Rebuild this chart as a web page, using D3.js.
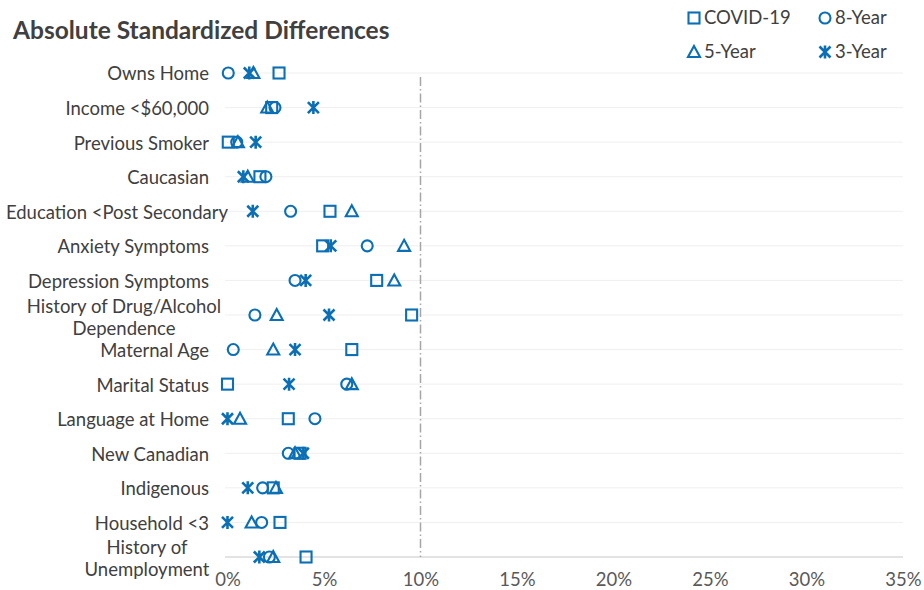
<!DOCTYPE html>
<html>
<head>
<meta charset="utf-8">
<script src="https://cdn.jsdelivr.net/npm/d3@7"></script>
<style>
  html, body { margin: 0; padding: 0; background: #fff; }
  svg { display: block; font-family: Lato, "Open Sans", sans-serif; }
</style>
</head>
<body>
<svg id="chart" width="924" height="590"></svg>
<script>
const categories = [
  "Owns Home", "Income <$60,000", "Previous Smoker", "Caucasian",
  "Education <Post Secondary", "Anxiety Symptoms", "Depression Symptoms",
  "History of Drug/Alcohol Dependence", "Maternal Age", "Marital Status",
  "Language at Home", "New Canadian", "Indigenous", "Household <3",
  "History of Unemployment"
];
const categoryLines = [
  ["Owns Home"], ["Income <$60,000"], ["Previous Smoker"], ["Caucasian"],
  ["Education <Post Secondary"], ["Anxiety Symptoms"], ["Depression Symptoms"],
  ["History of Drug/Alcohol", "Dependence"], ["Maternal Age"], ["Marital Status"],
  ["Language at Home"], ["New Canadian"], ["Indigenous"], ["Household <3"],
  ["History of", "Unemployment"]
];
// values in percent
const covid19 = [2.67, 2.29, 0.04, 1.68, 5.31, 4.93, 7.73, 9.54, 6.44, 0.0, 3.15, 3.76, 2.37, 2.72, 4.07];
const year8   = [0.04, 2.46, 0.48, 1.99, 3.27, 7.24, 3.50, 1.42, 0.30, 6.18, 4.53, 3.15, 1.82, 1.77, 2.17];
const year5   = [1.34, 2.06, 0.54, 1.05, 6.44, 9.15, 8.64, 2.55, 2.37, 6.44, 0.65, 3.50, 2.51, 1.25, 2.37];
const year3   = [1.13, 4.45, 1.46, 0.82, 1.31, 5.35, 4.05, 5.26, 3.50, 3.19, 0.0, 3.93, 1.05, 0.0, 1.65];
const xTicks = [0, 5, 10, 15, 20, 25, 30, 35];
const refLine = 10;

const seriesNames = ["COVID-19", "8-Year", "5-Year", "3-Year"];
const seriesValues = [covid19, year8, year5, year3];
const seriesShapes = ["square", "circle", "triangle", "asterisk"];

const blue = "#0b6fb6";
const textColor = "#404040";
const fs = 18.5;

const svg = d3.select("#chart");

const x = d3.scaleLinear().domain([0, 35]).range([227.5, 903]);
const y = d3.scalePoint().domain(categories).range([73, 557]);

// gridlines
svg.append("g").selectAll("line")
  .data(categories.slice(0, -1))
  .join("line")
  .attr("x1", 225).attr("x2", 903)
  .attr("y1", d => y(d)).attr("y2", d => y(d))
  .attr("stroke", "#efefef").attr("stroke-width", 1);

// bottom axis line
svg.append("line")
  .attr("x1", 225).attr("x2", 903)
  .attr("y1", y(categories[categories.length - 1]))
  .attr("y2", y(categories[categories.length - 1]))
  .attr("stroke", "#c8c8c8").attr("stroke-width", 1.2);

// reference line at 10%
svg.append("line")
  .attr("x1", x(refLine)).attr("x2", x(refLine))
  .attr("y1", 77).attr("y2", 557)
  .attr("stroke", "#a6a6a6").attr("stroke-width", 1.5)
  .attr("stroke-dasharray", "9,3,1.5,3");

// x axis
const xAxis = d3.axisBottom(x).tickValues(xTicks).tickFormat(d => d + "%").tickSize(0).tickPadding(0);
const gx = svg.append("g").attr("transform", "translate(0,570)").call(xAxis);
gx.select(".domain").remove();
gx.selectAll("text")
  .attr("dy", "0.85em")
  .attr("font-family", "Lato, sans-serif")
  .attr("font-size", fs)
  .attr("fill", "#595959");

// category labels
const labelG = svg.append("g");
categories.forEach((c, i) => {
  const lines = categoryLines[i];
  const cy = y(c) + 1;
  if (lines.length === 1) {
    labelG.append("text")
      .attr("x", i === 4 ? 228 : 209).attr("y", cy)
      .attr("dy", "0.35em")
      .attr("text-anchor", "end")
      .attr("font-size", fs)
      .attr("fill", textColor)
      .text(lines[0]);
  } else {
    const cx = i === 7 ? 124 : 147;
    const offs = i === 7 ? [-9, 13] : [-10, 12];
    lines.forEach((ln, k) => {
      labelG.append("text")
        .attr("x", cx).attr("y", cy + offs[k])
        .attr("dy", "0.35em")
        .attr("text-anchor", "middle")
        .attr("font-size", fs)
        .attr("fill", textColor)
        .text(ln);
    });
  }
});

// marker drawing
function drawMarker(g, shape, cx, cy) {
  const sw = 2.1;
  if (shape === "square") {
    g.append("rect").attr("x", cx - 5.5).attr("y", cy - 5.5).attr("width", 11).attr("height", 11)
      .attr("fill", "none").attr("stroke", blue).attr("stroke-width", sw);
  } else if (shape === "circle") {
    g.append("circle").attr("cx", cx).attr("cy", cy).attr("r", 5.5)
      .attr("fill", "none").attr("stroke", blue).attr("stroke-width", sw);
  } else if (shape === "triangle") {
    const p = d3.path();
    p.moveTo(cx, cy - 6); p.lineTo(cx + 6, cy + 5); p.lineTo(cx - 6, cy + 5); p.closePath();
    g.append("path").attr("d", p.toString())
      .attr("fill", "none").attr("stroke", blue).attr("stroke-width", sw).attr("stroke-linejoin", "miter");
  } else {
    const p = d3.path();
    p.moveTo(cx, cy - 6.5); p.lineTo(cx, cy + 6.5);
    p.moveTo(cx - 5.5, cy - 5.5); p.lineTo(cx + 5.5, cy + 5.5);
    p.moveTo(cx + 5.5, cy - 5.5); p.lineTo(cx - 5.5, cy + 5.5);
    g.append("path").attr("d", p.toString())
      .attr("fill", "none").attr("stroke", blue).attr("stroke-width", 2.6);
  }
}

const marksG = svg.append("g");
seriesValues.forEach((vals, s) => {
  const g = marksG.append("g").attr("class", "series-" + s);
  vals.forEach((v, i) => drawMarker(g, seriesShapes[s], x(v), y(categories[i])));
});

// title
svg.append("text")
  .attr("x", 13).attr("y", 30)
  .attr("dy", "0.35em")
  .attr("font-size", 24.5)
  .attr("font-weight", "bold")
  .attr("fill", textColor)
  .text("Absolute Standardized Differences");

// legend
const legendPos = [[694, 18], [825, 18], [694, 52], [825, 52]];
seriesNames.forEach((name, s) => {
  const [lx, ly] = legendPos[s];
  const g = svg.append("g");
  drawMarker(g, seriesShapes[s], lx, ly);
  g.append("text")
    .attr("x", lx + 10).attr("y", ly)
    .attr("dy", "0.35em")
    .attr("font-size", fs)
    .attr("fill", textColor)
    .text(name);
});
</script>
</body>
</html>
